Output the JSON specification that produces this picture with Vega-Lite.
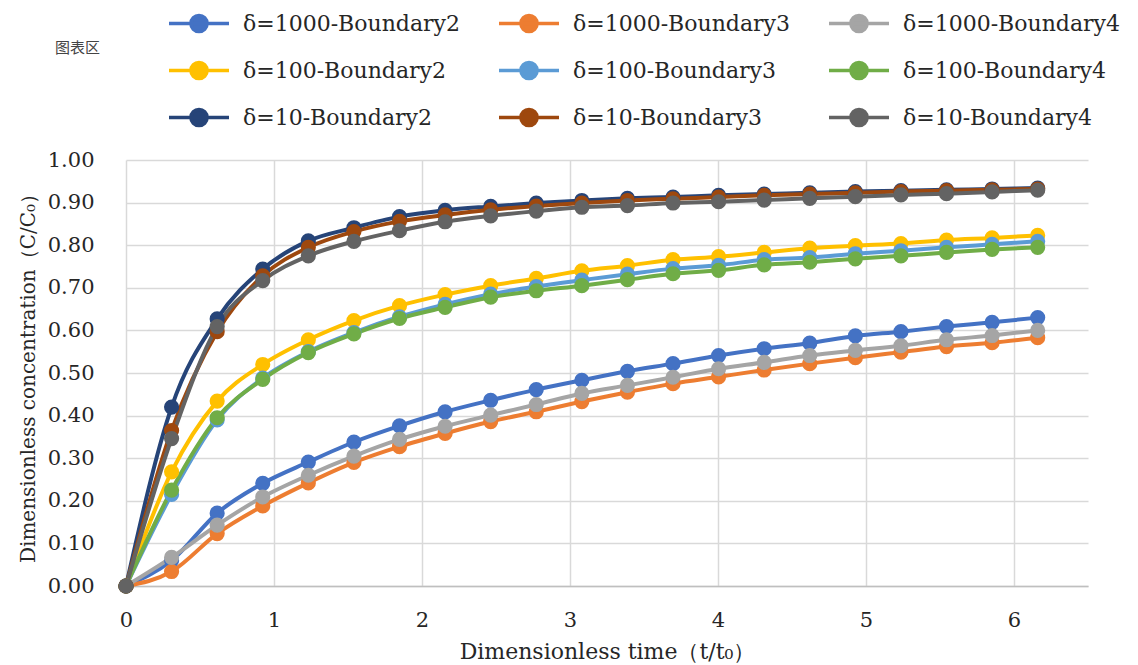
{
 "$schema": "https://vega.github.io/schema/vega-lite/v6.json",
 "width": 962,
 "height": 426,
 "autosize": {"type": "none"},
 "padding": {"left": 126, "top": 160, "right": 50, "bottom": 79},
 "background": "white",
 "title": {"text": "图表区", "anchor": "start", "frame": "group", "orient": "top", "dx": -71, "dy": 60, "fontSize": 15, "font": "Noto Sans CJK SC", "fontWeight": "normal", "color": "#444444"},
 "config": {
  "view": {"stroke": null},
  "axis": {"labelFont": "DejaVu Serif", "labelFontSize": 21, "labelColor": "#262626", "titleFont": "DejaVu Serif", "titleFontSize": 22, "titleFontWeight": "normal", "titleColor": "#262626", "gridColor": "#d9d9d9", "gridWidth": 1.5, "ticks": false, "labelFlush": false}
 },
 "data": {"values": [
  {"t":0,"s":"δ=1000-Boundary2","c":0},{"t":0.308,"s":"δ=1000-Boundary2","c":0.06},{"t":0.616,"s":"δ=1000-Boundary2","c":0.171},{"t":0.924,"s":"δ=1000-Boundary2","c":0.241},{"t":1.232,"s":"δ=1000-Boundary2","c":0.291},{"t":1.54,"s":"δ=1000-Boundary2","c":0.338},{"t":1.848,"s":"δ=1000-Boundary2","c":0.376},{"t":2.156,"s":"δ=1000-Boundary2","c":0.409},{"t":2.464,"s":"δ=1000-Boundary2","c":0.436},{"t":2.772,"s":"δ=1000-Boundary2","c":0.461},{"t":3.08,"s":"δ=1000-Boundary2","c":0.483},{"t":3.388,"s":"δ=1000-Boundary2","c":0.504},{"t":3.696,"s":"δ=1000-Boundary2","c":0.522},{"t":4.004,"s":"δ=1000-Boundary2","c":0.541},{"t":4.312,"s":"δ=1000-Boundary2","c":0.557},{"t":4.62,"s":"δ=1000-Boundary2","c":0.57},{"t":4.928,"s":"δ=1000-Boundary2","c":0.587},{"t":5.236,"s":"δ=1000-Boundary2","c":0.597},{"t":5.544,"s":"δ=1000-Boundary2","c":0.609},{"t":5.852,"s":"δ=1000-Boundary2","c":0.619},{"t":6.16,"s":"δ=1000-Boundary2","c":0.63},
  {"t":0,"s":"δ=1000-Boundary3","c":0},{"t":0.308,"s":"δ=1000-Boundary3","c":0.034},{"t":0.616,"s":"δ=1000-Boundary3","c":0.123},{"t":0.924,"s":"δ=1000-Boundary3","c":0.188},{"t":1.232,"s":"δ=1000-Boundary3","c":0.242},{"t":1.54,"s":"δ=1000-Boundary3","c":0.29},{"t":1.848,"s":"δ=1000-Boundary3","c":0.327},{"t":2.156,"s":"δ=1000-Boundary3","c":0.358},{"t":2.464,"s":"δ=1000-Boundary3","c":0.386},{"t":2.772,"s":"δ=1000-Boundary3","c":0.409},{"t":3.08,"s":"δ=1000-Boundary3","c":0.433},{"t":3.388,"s":"δ=1000-Boundary3","c":0.455},{"t":3.696,"s":"δ=1000-Boundary3","c":0.475},{"t":4.004,"s":"δ=1000-Boundary3","c":0.491},{"t":4.312,"s":"δ=1000-Boundary3","c":0.507},{"t":4.62,"s":"δ=1000-Boundary3","c":0.522},{"t":4.928,"s":"δ=1000-Boundary3","c":0.536},{"t":5.236,"s":"δ=1000-Boundary3","c":0.549},{"t":5.544,"s":"δ=1000-Boundary3","c":0.562},{"t":5.852,"s":"δ=1000-Boundary3","c":0.571},{"t":6.16,"s":"δ=1000-Boundary3","c":0.583},
  {"t":0,"s":"δ=1000-Boundary4","c":0},{"t":0.308,"s":"δ=1000-Boundary4","c":0.067},{"t":0.616,"s":"δ=1000-Boundary4","c":0.143},{"t":0.924,"s":"δ=1000-Boundary4","c":0.209},{"t":1.232,"s":"δ=1000-Boundary4","c":0.26},{"t":1.54,"s":"δ=1000-Boundary4","c":0.305},{"t":1.848,"s":"δ=1000-Boundary4","c":0.344},{"t":2.156,"s":"δ=1000-Boundary4","c":0.375},{"t":2.464,"s":"δ=1000-Boundary4","c":0.401},{"t":2.772,"s":"δ=1000-Boundary4","c":0.426},{"t":3.08,"s":"δ=1000-Boundary4","c":0.452},{"t":3.388,"s":"δ=1000-Boundary4","c":0.471},{"t":3.696,"s":"δ=1000-Boundary4","c":0.49},{"t":4.004,"s":"δ=1000-Boundary4","c":0.51},{"t":4.312,"s":"δ=1000-Boundary4","c":0.525},{"t":4.62,"s":"δ=1000-Boundary4","c":0.541},{"t":4.928,"s":"δ=1000-Boundary4","c":0.553},{"t":5.236,"s":"δ=1000-Boundary4","c":0.564},{"t":5.544,"s":"δ=1000-Boundary4","c":0.578},{"t":5.852,"s":"δ=1000-Boundary4","c":0.588},{"t":6.16,"s":"δ=1000-Boundary4","c":0.6},
  {"t":0,"s":"δ=100-Boundary2","c":0},{"t":0.308,"s":"δ=100-Boundary2","c":0.268},{"t":0.616,"s":"δ=100-Boundary2","c":0.434},{"t":0.924,"s":"δ=100-Boundary2","c":0.52},{"t":1.232,"s":"δ=100-Boundary2","c":0.578},{"t":1.54,"s":"δ=100-Boundary2","c":0.623},{"t":1.848,"s":"δ=100-Boundary2","c":0.658},{"t":2.156,"s":"δ=100-Boundary2","c":0.684},{"t":2.464,"s":"δ=100-Boundary2","c":0.705},{"t":2.772,"s":"δ=100-Boundary2","c":0.722},{"t":3.08,"s":"δ=100-Boundary2","c":0.74},{"t":3.388,"s":"δ=100-Boundary2","c":0.752},{"t":3.696,"s":"δ=100-Boundary2","c":0.766},{"t":4.004,"s":"δ=100-Boundary2","c":0.773},{"t":4.312,"s":"δ=100-Boundary2","c":0.783},{"t":4.62,"s":"δ=100-Boundary2","c":0.793},{"t":4.928,"s":"δ=100-Boundary2","c":0.799},{"t":5.236,"s":"δ=100-Boundary2","c":0.804},{"t":5.544,"s":"δ=100-Boundary2","c":0.812},{"t":5.852,"s":"δ=100-Boundary2","c":0.817},{"t":6.16,"s":"δ=100-Boundary2","c":0.823},
  {"t":0,"s":"δ=100-Boundary3","c":0},{"t":0.308,"s":"δ=100-Boundary3","c":0.215},{"t":0.616,"s":"δ=100-Boundary3","c":0.39},{"t":0.924,"s":"δ=100-Boundary3","c":0.488},{"t":1.232,"s":"δ=100-Boundary3","c":0.55},{"t":1.54,"s":"δ=100-Boundary3","c":0.595},{"t":1.848,"s":"δ=100-Boundary3","c":0.632},{"t":2.156,"s":"δ=100-Boundary3","c":0.661},{"t":2.464,"s":"δ=100-Boundary3","c":0.685},{"t":2.772,"s":"δ=100-Boundary3","c":0.703},{"t":3.08,"s":"δ=100-Boundary3","c":0.718},{"t":3.388,"s":"δ=100-Boundary3","c":0.732},{"t":3.696,"s":"δ=100-Boundary3","c":0.745},{"t":4.004,"s":"δ=100-Boundary3","c":0.753},{"t":4.312,"s":"δ=100-Boundary3","c":0.766},{"t":4.62,"s":"δ=100-Boundary3","c":0.771},{"t":4.928,"s":"δ=100-Boundary3","c":0.78},{"t":5.236,"s":"δ=100-Boundary3","c":0.787},{"t":5.544,"s":"δ=100-Boundary3","c":0.795},{"t":5.852,"s":"δ=100-Boundary3","c":0.802},{"t":6.16,"s":"δ=100-Boundary3","c":0.809},
  {"t":0,"s":"δ=100-Boundary4","c":0},{"t":0.308,"s":"δ=100-Boundary4","c":0.225},{"t":0.616,"s":"δ=100-Boundary4","c":0.395},{"t":0.924,"s":"δ=100-Boundary4","c":0.485},{"t":1.232,"s":"δ=100-Boundary4","c":0.548},{"t":1.54,"s":"δ=100-Boundary4","c":0.592},{"t":1.848,"s":"δ=100-Boundary4","c":0.628},{"t":2.156,"s":"δ=100-Boundary4","c":0.654},{"t":2.464,"s":"δ=100-Boundary4","c":0.678},{"t":2.772,"s":"δ=100-Boundary4","c":0.693},{"t":3.08,"s":"δ=100-Boundary4","c":0.705},{"t":3.388,"s":"δ=100-Boundary4","c":0.719},{"t":3.696,"s":"δ=100-Boundary4","c":0.733},{"t":4.004,"s":"δ=100-Boundary4","c":0.741},{"t":4.312,"s":"δ=100-Boundary4","c":0.754},{"t":4.62,"s":"δ=100-Boundary4","c":0.76},{"t":4.928,"s":"δ=100-Boundary4","c":0.768},{"t":5.236,"s":"δ=100-Boundary4","c":0.775},{"t":5.544,"s":"δ=100-Boundary4","c":0.783},{"t":5.852,"s":"δ=100-Boundary4","c":0.79},{"t":6.16,"s":"δ=100-Boundary4","c":0.795},
  {"t":0,"s":"δ=10-Boundary2","c":0},{"t":0.308,"s":"δ=10-Boundary2","c":0.42},{"t":0.616,"s":"δ=10-Boundary2","c":0.627},{"t":0.924,"s":"δ=10-Boundary2","c":0.744},{"t":1.232,"s":"δ=10-Boundary2","c":0.81},{"t":1.54,"s":"δ=10-Boundary2","c":0.841},{"t":1.848,"s":"δ=10-Boundary2","c":0.867},{"t":2.156,"s":"δ=10-Boundary2","c":0.882},{"t":2.464,"s":"δ=10-Boundary2","c":0.891},{"t":2.772,"s":"δ=10-Boundary2","c":0.899},{"t":3.08,"s":"δ=10-Boundary2","c":0.905},{"t":3.388,"s":"δ=10-Boundary2","c":0.91},{"t":3.696,"s":"δ=10-Boundary2","c":0.913},{"t":4.004,"s":"δ=10-Boundary2","c":0.917},{"t":4.312,"s":"δ=10-Boundary2","c":0.92},{"t":4.62,"s":"δ=10-Boundary2","c":0.923},{"t":4.928,"s":"δ=10-Boundary2","c":0.926},{"t":5.236,"s":"δ=10-Boundary2","c":0.928},{"t":5.544,"s":"δ=10-Boundary2","c":0.93},{"t":5.852,"s":"δ=10-Boundary2","c":0.932},{"t":6.16,"s":"δ=10-Boundary2","c":0.934},
  {"t":0,"s":"δ=10-Boundary3","c":0},{"t":0.308,"s":"δ=10-Boundary3","c":0.365},{"t":0.616,"s":"δ=10-Boundary3","c":0.597},{"t":0.924,"s":"δ=10-Boundary3","c":0.728},{"t":1.232,"s":"δ=10-Boundary3","c":0.795},{"t":1.54,"s":"δ=10-Boundary3","c":0.832},{"t":1.848,"s":"δ=10-Boundary3","c":0.856},{"t":2.156,"s":"δ=10-Boundary3","c":0.871},{"t":2.464,"s":"δ=10-Boundary3","c":0.883},{"t":2.772,"s":"δ=10-Boundary3","c":0.892},{"t":3.08,"s":"δ=10-Boundary3","c":0.899},{"t":3.388,"s":"δ=10-Boundary3","c":0.905},{"t":3.696,"s":"δ=10-Boundary3","c":0.909},{"t":4.004,"s":"δ=10-Boundary3","c":0.913},{"t":4.312,"s":"δ=10-Boundary3","c":0.917},{"t":4.62,"s":"δ=10-Boundary3","c":0.92},{"t":4.928,"s":"δ=10-Boundary3","c":0.923},{"t":5.236,"s":"δ=10-Boundary3","c":0.926},{"t":5.544,"s":"δ=10-Boundary3","c":0.928},{"t":5.852,"s":"δ=10-Boundary3","c":0.93},{"t":6.16,"s":"δ=10-Boundary3","c":0.932},
  {"t":0,"s":"δ=10-Boundary4","c":0},{"t":0.308,"s":"δ=10-Boundary4","c":0.346},{"t":0.616,"s":"δ=10-Boundary4","c":0.609},{"t":0.924,"s":"δ=10-Boundary4","c":0.717},{"t":1.232,"s":"δ=10-Boundary4","c":0.775},{"t":1.54,"s":"δ=10-Boundary4","c":0.809},{"t":1.848,"s":"δ=10-Boundary4","c":0.834},{"t":2.156,"s":"δ=10-Boundary4","c":0.855},{"t":2.464,"s":"δ=10-Boundary4","c":0.869},{"t":2.772,"s":"δ=10-Boundary4","c":0.88},{"t":3.08,"s":"δ=10-Boundary4","c":0.889},{"t":3.388,"s":"δ=10-Boundary4","c":0.893},{"t":3.696,"s":"δ=10-Boundary4","c":0.899},{"t":4.004,"s":"δ=10-Boundary4","c":0.902},{"t":4.312,"s":"δ=10-Boundary4","c":0.906},{"t":4.62,"s":"δ=10-Boundary4","c":0.91},{"t":4.928,"s":"δ=10-Boundary4","c":0.914},{"t":5.236,"s":"δ=10-Boundary4","c":0.918},{"t":5.544,"s":"δ=10-Boundary4","c":0.921},{"t":5.852,"s":"δ=10-Boundary4","c":0.925},{"t":6.16,"s":"δ=10-Boundary4","c":0.929}
 ]},
 "encoding": {
  "x": {"field": "t", "type": "quantitative", "scale": {"domain": [0, 6.5], "nice": false, "zero": false},
        "axis": {"values": [0,1,2,3,4,5,6], "format": "d", "title": "Dimensionless time（t/t₀）", "grid": true, "domain": true, "domainColor": "#bfbfbf", "domainWidth": 1.5, "labelPadding": 23, "titlePadding": 11}},
  "y": {"field": "c", "type": "quantitative", "scale": {"domain": [0, 1], "nice": false},
        "axis": {"values": [0,0.1,0.2,0.3,0.4,0.5,0.6,0.7,0.8,0.9,1], "format": ".2f", "title": "Dimensionless concentration（C/C₀）", "titleFontSize": 20, "grid": true, "domain": false, "labelPadding": 32, "titlePadding": 9}},
  "color": {"field": "s", "type": "nominal",
   "scale": {"domain": ["δ=1000-Boundary2","δ=1000-Boundary3","δ=1000-Boundary4","δ=100-Boundary2","δ=100-Boundary3","δ=100-Boundary4","δ=10-Boundary2","δ=10-Boundary3","δ=10-Boundary4"],
             "range": ["#4472C4","#ED7D31","#A5A5A5","#FFC000","#5B9BD5","#70AD47","#264478","#9E480E","#636363"]},
   "legend": {"title": null, "orient": "none", "direction": "horizontal", "legendX": 41, "legendY": -160, "columns": 3, "padding": 0, "clipHeight": 47, "rowPadding": 0, "columnPadding": 37,
     "symbolType": "M-1,0H1M-0.27,0A0.27,0.27,0,1,1,0.27,0A0.27,0.27,0,1,1,-0.27,0Z", "symbolSize": 3600, "symbolStrokeWidth": 3.5,
     "labelFont": "DejaVu Serif", "labelFontSize": 22, "labelColor": "#262626", "labelOffset": 12, "labelLimit": 400,
     "encode": {"symbols": {"update": {"fill": {"scale": "color", "field": "value"}, "stroke": {"scale": "color", "field": "value"}, "opacity": {"value": 1}}}}}
  }
 },
 "layer": [
  {"mark": {"type": "line", "strokeWidth": 4, "interpolate": "monotone"}},
  {"mark": {"type": "point", "filled": true, "size": 230, "opacity": 1}}
 ]
}
